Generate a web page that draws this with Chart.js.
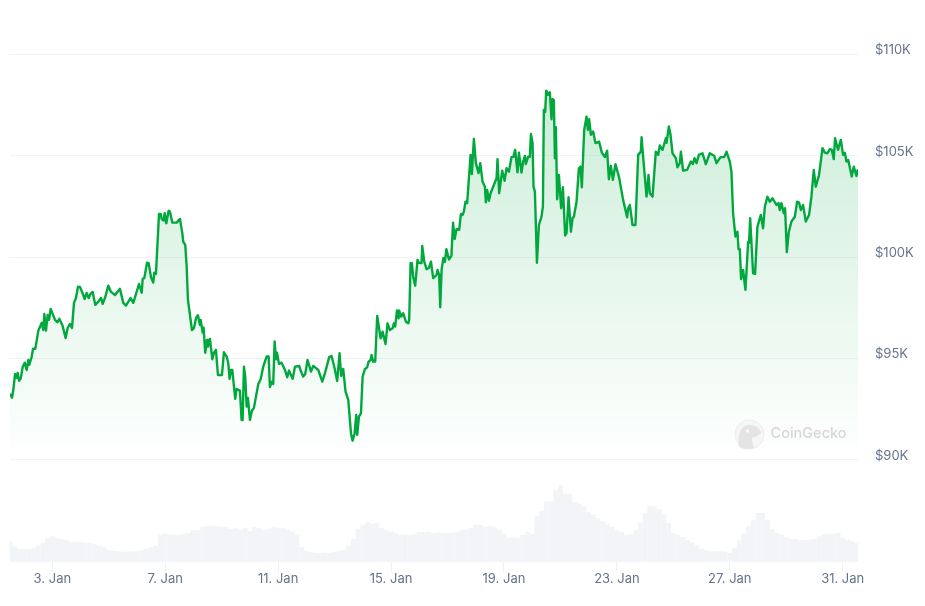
<!DOCTYPE html>
<html><head><meta charset="utf-8">
<style>html,body{margin:0;padding:0;background:#fff;overflow:hidden}canvas{display:block}</style>
<script src="https://cdn.jsdelivr.net/npm/chart.js@4/dist/chart.umd.min.js"></script>
</head><body><canvas id="c" width="925" height="606"></canvas>
<script>
// Hours since 1 Jan 12:00
const priceHours=[0,1.7,2.8,4.3,5.7,6.5,7.7,9.1,10.8,12.5,14.2,15.6,16.4,18.4,19.6,21.5,24.1,26.9,28.3,29.2,30.6,32,33.2,34.6,38.3,40.2,41.9,44.5,47.3,49,51,52.7,54.4,56.1,57.8,59.5,61.2,63.5,65.2,66.9,68.4,70.3,72.5,75.1,77.4,78.8,81,83.6,85.9,89.3,93.5,96.3,98.6,102.6,104.8,109.7,112,112.8,114.2,116.5,117.9,119.9,121.8,122.7,124.1,126.7,128.1,129,130.6,131.5,132.9,134.9,136,138,141.7,144.5,146.5,147.3,149,150.2,151.3,154.7,156.4,158.1,159.8,161.5,162.1,163.8,164.6,166,167.5,168.3,170,172,173.4,175.1,176.8,180.2,181.9,184.2,185.6,186.7,187.9,189,191.5,192.7,195.5,196.9,197.8,198.9,200,201.2,202.3,204,205.7,207.4,211.1,213.1,215.3,218.2,219.9,221,222.4,223.8,225,226.1,227,228.7,230.9,233.8,235.7,237.2,240.3,242.3,245.9,247.1,249.3,251,253,255.9,257.8,262.1,265.5,267.8,271.4,273.4,275.7,278.2,280.2,281.6,283.3,285.3,287.6,289.9,291.3,293,294.4,295.2,296.7,298.4,299.8,301.8,303.7,304.9,306.6,307.4,308.8,310.5,312.2,315.1,316.8,319.3,321,323,325.3,326.4,327.5,329,330.4,330.9,332.6,334.3,336.6,338.6,339.4,340.6,341.7,342.8,344.5,346.5,347.7,349.9,350.5,352.2,354.2,356.2,357.9,359.8,362.7,363.5,364.9,365.8,367,368.5,369.8,371,373.2,375.3,376.7,378.1,379.7,381.9,383.4,384.8,385.9,387.3,388.7,391.6,392.7,394.4,396.1,398.4,399.8,401.8,403.8,404.6,405.7,407.2,408.6,410.8,413.7,414.5,415.9,418.5,420.5,422.2,424.2,426.4,428,429.5,431.5,432.7,434.9,436.3,437.8,438.6,440.6,442,442.9,444.3,445.1,446.3,448,449.7,451.9,453.1,453.9,455,455.9,457.6,459,460.4,461.3,462.4,463.3,464.1,465.2,466.7,468.6,470.1,472,473.2,474.9,476.9,478.3,479.4,481.7,483.7,485.1,486.2,488.2,490.2,491.3,492.4,493.9,495.8,497.8,500.9,503.2,505.8,507.7,509.2,510.9,512.6,514.8,517.7,521.3,524.7,525.6,527,529.3,531.8,534.1,536.4,537,538.3,541.2,542.9,544,546.3,549.1,551.1,552.5,554.8,557.6,558.2,560.2,561.6,563.3,566.1,567.5,569.5,570.4,572.3,575.7,578.9,580.6,582,583.7,585.7,588.8,591.6,595,598.7,600.7,604.1,607.2,609.2,612,613.4,614.8,616.8,618.5,619.4,620.5,621.6,623.3,625.3,627.6,628.4,629.3,631.8,633.5,635.5,638.4,640.3,641.8,644,646,648.3,651.7,653.4,654.5,655.9,657.9,659,660.5,662.2,664.4,667.3,669.2,670.9,672.4,674.3,676.6,679.4,681.4,683.4,685.1,687.9,690.8,692.8,695,697,698.7,700.4,701.5,704,706.4,708.3,709.8,711.2,712.7,715.7,717.4,719.7,721];
// Price in thousands of USD
const priceK=[93.26,93.07,93.45,94.24,94.05,94.29,93.91,94.01,94.59,94.80,94.44,94.93,94.69,95.08,95.49,95.48,96.38,96.76,96.41,97.20,96.38,97.15,96.91,97.45,96.91,96.79,96.96,96.66,96.02,96.51,96.71,96.51,97.75,97.99,98.55,98.54,98.30,97.94,98.24,97.99,98.19,98.29,97.65,97.81,97.99,97.70,98.04,98.60,98.29,98.14,98.44,97.75,97.61,97.99,97.75,98.68,98.25,98.93,98.97,99.73,99.71,99.01,98.75,99.24,99.18,102.14,102.14,101.88,101.81,102.17,101.68,102.29,102.25,101.71,101.71,101.89,101.19,100.77,100.61,99.54,97.89,96.41,96.50,96.99,97.14,96.66,96.91,96.28,96.53,95.29,95.92,95.59,95.97,94.97,95.29,95.43,94.19,94.19,95.31,95.10,94.77,94.00,94.44,94.44,93.01,93.50,93.42,91.97,91.97,94.60,94.11,92.63,93.06,91.97,92.43,92.57,93.75,93.98,94.60,95.10,95.10,93.59,93.86,93.75,95.84,94.97,95.29,94.74,94.80,94.44,94.08,94.41,94.00,94.60,94.64,94.41,94.11,94.24,94.93,94.36,94.64,94.44,93.86,94.28,95.07,95.13,94.60,93.90,95.26,94.14,94.49,93.37,92.96,91.32,90.95,91.32,92.22,91.23,92.14,92.30,94.11,94.49,94.57,94.85,94.93,95.18,94.85,94.85,97.10,96.00,96.33,95.72,96.74,96.41,96.50,96.74,96.58,97.37,96.99,97.37,97.07,97.24,96.82,96.74,96.91,99.71,99.71,99.04,98.60,99.87,99.72,99.71,100.56,99.78,99.41,99.47,99.78,98.97,99.13,99.37,99.13,97.53,99.42,99.95,99.77,100.40,99.89,100.07,101.71,100.90,101.40,101.35,102.14,102.09,102.25,102.74,102.67,105.05,104.10,105.84,104.64,104.15,104.64,103.73,103.48,102.71,103.32,102.79,103.16,103.48,103.90,104.84,103.16,104.27,103.77,104.39,104.22,104.94,104.95,105.30,104.19,105.16,104.18,104.72,105.00,104.60,104.96,104.95,106.08,105.63,103.48,103.24,99.73,101.59,102.00,102.50,107.27,107.17,108.22,108.01,108.14,106.81,107.80,107.76,104.89,106.42,102.86,104.06,102.42,103.45,101.07,101.20,102.96,101.26,101.93,101.99,102.74,104.39,104.47,103.45,106.28,106.94,106.28,106.81,106.04,106.20,105.63,105.70,105.16,104.94,105.26,103.85,104.51,103.82,104.59,103.98,102.83,101.97,102.42,102.58,101.59,101.59,105.05,105.21,105.92,104.96,102.99,104.06,103.16,102.99,105.21,105.05,105.51,105.30,105.87,105.64,106.45,106.04,105.13,104.89,104.44,104.64,105.21,104.27,104.31,104.72,104.60,104.89,104.64,105.05,105.13,104.59,105.13,105.01,104.64,104.94,104.94,105.21,104.72,104.22,102.17,101.02,101.26,100.40,100.40,98.92,99.37,98.39,100.77,100.71,101.93,99.21,99.18,101.51,102.09,101.43,102.50,102.99,102.74,102.91,102.58,102.67,102.33,102.67,102.17,102.42,100.25,101.26,101.76,102.00,102.74,102.70,102.33,102.58,101.76,102.09,102.99,104.31,103.48,104.06,105.38,105.16,105.13,105.33,105.30,104.84,105.87,105.30,105.79,105.05,105.15,104.72,104.80,103.98,104.47,104.01,104.34];
// Volume per four-hour interval (estimated, billions)
const volumeB=[20,15,12.3,12.3,12.3,13.7,15.7,18.3,23.3,25,23.3,22.3,21,19.3,19,19,18.7,18.3,17,15.7,14.3,11.7,10.7,10,9.7,9.7,10,10.3,11.3,13,14.3,15.7,26.7,27.7,26.7,26.7,26.7,27.3,28.3,31,31,34.3,35,35,35.7,34.3,34.3,32.3,33,31.7,33,30,34.3,33,31,32.3,34.3,33.7,33,31.7,29.7,26.7,14.3,10,9,8.3,8.3,8.3,8.7,9.3,10.3,11.7,15.7,22.3,32.3,36.7,39,37.7,38.3,33.3,31,29.7,28.3,26.7,26.7,26.3,27,29.3,29.3,29.7,28.3,29,28.3,28.3,28.3,29.3,31,31.7,33.3,36.7,36.7,34.3,35.7,34.3,31.7,27.7,23.7,24,23.3,26.3,29.7,27.7,45,50,59.7,60,71.7,76.7,67.7,67.7,59.3,57.7,55,49,46.7,43.3,40,36.7,34.3,31,29,26.7,27.3,31.7,38.3,48.3,55.7,55,52.3,46.7,38.3,28.3,26.7,24.3,21.7,19,15.7,12.3,11,10,10.3,10,9.7,8.3,13.3,21,28.3,35,41.7,48.3,48.3,41.7,32.3,28.3,26.7,24,22.3,22.3,21,21.7,21.7,22.3,25,27,27.7,27.7,28.3,23.3,21.7,20.3,18.3];
const tickHours=[36,132,228,324,420,516,612,708];
const tickLabels=["3. Jan","7. Jan","11. Jan","15. Jan","19. Jan","23. Jan","27. Jan","31. Jan"];
const priceTicks=[90000,95000,100000,105000,110000];
const priceTickLabels=["$90K","$95K","$100K","$105K","$110K"];
const FONT="Inter, 'Liberation Sans', sans-serif";

const watermark={id:'watermark',afterDatasetsDraw(chart){
  const c=chart.ctx;c.save();
  c.beginPath();c.arc(749.5,434.5,14.5,0,Math.PI*2);c.fillStyle='rgba(245,245,245,.85)';c.fill();
  c.lineWidth=1;c.strokeStyle='#ececec';c.stroke();
  c.beginPath();c.moveTo(739,447);c.bezierCurveTo(737,436,740,426,748,425);
  c.bezierCurveTo(754,424,760,428,761,433);c.bezierCurveTo(757,437,754,437,752,438);
  c.bezierCurveTo(752,442,753,446,754,448);c.bezierCurveTo(748,450,743,449,739,447);c.closePath();
  c.fillStyle='#e4e4e4';c.fill();
  c.beginPath();c.arc(747.5,431,1.8,0,Math.PI*2);c.fillStyle='#fbfbfb';c.fill();
  c.font="500 14.5px "+FONT;c.fillStyle='#d6d6d6';c.textBaseline='middle';c.textAlign='left';
  c.fillText('CoinGecko',770.5,434);
  c.restore();
}};

new Chart(document.getElementById('c'),{
  data:{datasets:[
    {type:'line',order:0,yAxisID:'y',
     data:priceHours.map((h,i)=>({x:h,y:priceK[i]*1000})),
     borderColor:'#00a83e',borderWidth:2.4,pointRadius:0,tension:0,borderJoinStyle:'round',
     fill:{target:{value:90000}},
     backgroundColor(ctx){
       const ch=ctx.chart;if(!ch.chartArea)return 'transparent';
       const s=ch.scales.y,g=ch.ctx.createLinearGradient(0,s.getPixelForValue(108200),0,s.getPixelForValue(90000));
       g.addColorStop(0,'rgba(0,168,62,0.2)');g.addColorStop(1,'rgba(0,168,62,0)');return g;
     }},
    {type:'bar',order:1,yAxisID:'y1',
     data:volumeB.map((v,i)=>({x:i*4,y:v})),
     backgroundColor:'#f2f4f7',borderWidth:0,barThickness:4.2}
  ]},
  options:{
    responsive:false,animation:false,
    layout:{padding:{left:10,right:0,top:44.4,bottom:0}},
    plugins:{legend:{display:false},tooltip:{enabled:false}},
    scales:{
      x:{type:'linear',min:0,max:721,offset:false,
        afterBuildTicks(a){a.ticks=tickHours.map(v=>({value:v}));},
        afterFit(a){a.height=44.3;},
        border:{display:false},
        grid:{offset:false,drawOnChartArea:false,drawTicks:true,tickLength:10,tickColor:'#eff1f3'},
        ticks:{autoSkip:false,maxRotation:0,padding:0,color:'#64748b',font:{family:FONT,size:13},
          callback(v){return tickLabels[tickHours.indexOf(v)];}}},
      y:{position:'right',min:84980,max:110500,
        afterBuildTicks(a){a.ticks=priceTicks.map(v=>({value:v}));},
        afterFit(a){a.width=67;},
        border:{display:false},
        grid:{color:'#f1f3f5',lineWidth:1,drawTicks:false},
        ticks:{padding:17,crossAlign:'near',labelOffset:-4,color:'#64748b',font:{family:FONT,size:13},
          callback(v){return priceTickLabels[priceTicks.indexOf(v)];}}},
      y1:{display:false,min:0,max:517.3}
    }
  },
  plugins:[watermark]
});
</script></body></html>
